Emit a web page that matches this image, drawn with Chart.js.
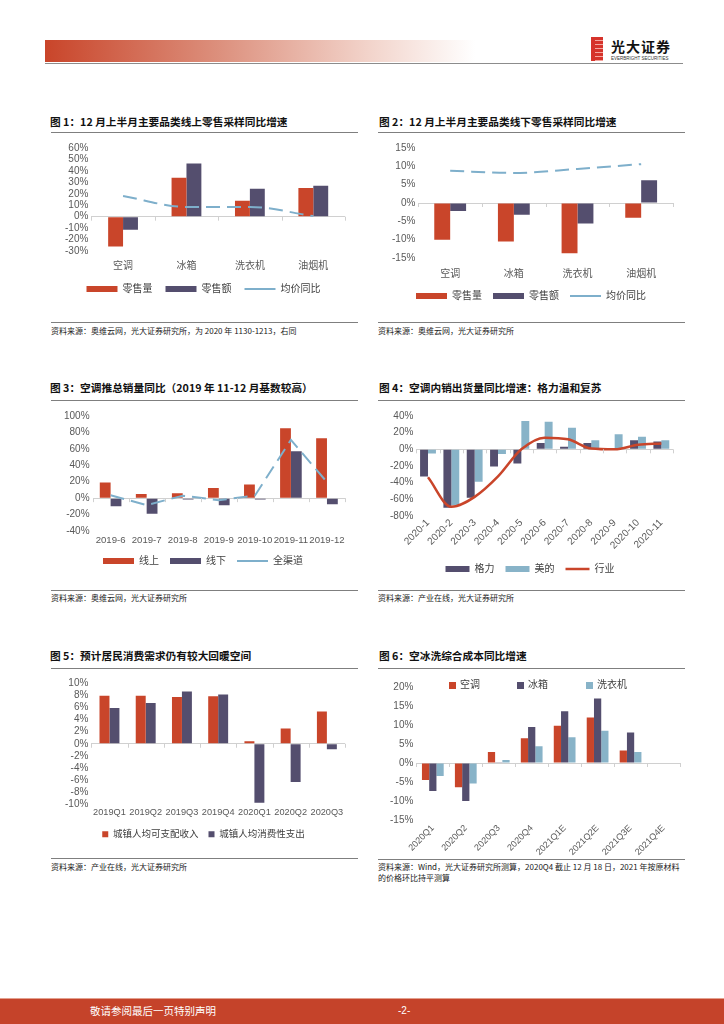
<!DOCTYPE html>
<html>
<head>
<meta charset="utf-8">
<script src="https://cdn.jsdelivr.net/npm/chart.js@4.4.0/dist/chart.umd.min.js"></script>
<style>
  body { margin: 0; width: 724px; height: 1024px; position: relative; background: #fff; overflow: hidden;
         font-family: "Noto Sans CJK SC", sans-serif; }
  .abs { position: absolute; }
  .title { font-size: 10.7px; font-weight: bold; color: #111; white-space: nowrap; line-height: 14px; }
  .rule { height: 0; border-top: 1.5px solid #7f7f7f; }
  .src { font-size: 8px; color: #222; white-space: nowrap; line-height: 11px; }
  .box { position: absolute; }
  .lg6 { position: absolute; font-size: 10px; color: #404040; line-height: 12px; white-space: nowrap; }
  .lg6 i { display: inline-block; width: 7px; height: 7px; margin-right: 4px; vertical-align: -0.5px; }
</style>
</head>
<body>

<!-- header -->
<div class="abs" style="left:45px;top:40px;width:430px;height:22px;background:linear-gradient(to right,#c9452a 0%,#dc8f7c 40%,#f2d3ca 75%,#ffffff 100%);"></div>
<div class="abs" style="left:45px;top:63px;width:638px;height:0;border-top:1.5px solid #8c8c8c;"></div>
<div class="abs" style="left:591px;top:37px;width:12px;height:24px;background:repeating-linear-gradient(to bottom,#d6332b 0px,#d6332b 3px,#f4a7a0 3px,#f4a7a0 4px);"></div>
<div class="abs" style="left:591px;top:37px;width:4px;height:24px;background:#d6332b;"></div>
<div class="abs" style="left:611px;top:38px;font-size:14px;font-weight:bold;color:#111;letter-spacing:1px;line-height:16px;">光大证券</div>
<div class="abs" style="left:611px;top:56px;font-size:4.5px;color:#333;line-height:5px;font-family:'Liberation Sans',sans-serif;">EVERBRIGHT SECURITIES</div>

<!-- row 1 -->
<div class="abs title" style="left:50px;top:115px;">图 1：12 月上半月主要品类线上零售采样同比增速</div>
<div class="abs rule" style="left:51px;top:132px;width:307px;"></div>
<div class="box" style="left:50px;top:138px;width:308px;height:166px;"><canvas id="c1"></canvas></div>
<div class="abs rule" style="left:51px;top:322px;width:307px;"></div>
<div class="abs src" style="left:51px;top:325px;">资料来源：奥维云网，光大证券研究所，为 2020 年 1130-1213，右同</div>

<div class="abs title" style="left:379px;top:115px;">图 2：12 月上半月主要品类线下零售采样同比增速</div>
<div class="abs rule" style="left:378px;top:132px;width:307px;"></div>
<div class="box" style="left:380px;top:138px;width:305px;height:173px;"><canvas id="c2"></canvas></div>
<div class="abs rule" style="left:378px;top:322px;width:307px;"></div>
<div class="abs src" style="left:378px;top:325px;">资料来源：奥维云网，光大证券研究所</div>

<!-- row 2 -->
<div class="abs title" style="left:50px;top:381px;">图 3：空调推总销量同比（2019 年 11-12 月基数较高）</div>
<div class="abs rule" style="left:51px;top:400px;width:307px;"></div>
<div class="box" style="left:50px;top:405px;width:308px;height:171px;"><canvas id="c3"></canvas></div>
<div class="abs rule" style="left:51px;top:590px;width:307px;"></div>
<div class="abs src" style="left:51px;top:592px;">资料来源：奥维云网，光大证券研究所</div>

<div class="abs title" style="left:379px;top:381px;">图 4：空调内销出货量同比增速：格力温和复苏</div>
<div class="abs rule" style="left:378px;top:400px;width:307px;"></div>
<div class="box" style="left:380px;top:405px;width:305px;height:179px;"><canvas id="c4"></canvas></div>
<div class="abs rule" style="left:378px;top:590px;width:307px;"></div>
<div class="abs src" style="left:378px;top:592px;">资料来源：产业在线，光大证券研究所</div>

<!-- row 3 -->
<div class="abs title" style="left:50px;top:649px;">图 5：预计居民消费需求仍有较大回暖空间</div>
<div class="abs rule" style="left:51px;top:668px;width:307px;"></div>
<div class="box" style="left:50px;top:672px;width:308px;height:177px;"><canvas id="c5"></canvas></div>
<div class="abs rule" style="left:51px;top:858px;width:307px;"></div>
<div class="abs src" style="left:51px;top:861px;">资料来源：产业在线，光大证券研究所</div>

<div class="abs title" style="left:379px;top:649px;">图 6：空冰洗综合成本同比增速</div>
<div class="abs rule" style="left:378px;top:668px;width:307px;"></div>
<div class="box" style="left:380px;top:676px;width:310px;height:180px;"><canvas id="c6"></canvas></div>
<div class="lg6" style="left:449px;top:678px;"><i style="background:#c9452a"></i>空调</div>
<div class="lg6" style="left:517px;top:678px;"><i style="background:#544e6e"></i>冰箱</div>
<div class="lg6" style="left:586px;top:678px;"><i style="background:#88b3c8"></i>洗衣机</div>
<div class="abs rule" style="left:378px;top:859px;width:307px;"></div>
<div class="abs src" style="left:378px;top:861px;">资料来源：Wind，光大证券研究所测算，2020Q4 截止 12 月 18 日，2021 年按原材料</div>
<div class="abs src" style="left:378px;top:872px;">的价格环比持平测算</div>

<!-- footer -->
<div class="abs" style="left:0;top:998px;width:724px;height:25px;background:#c5432a;border-top:1px solid #e3a08f;"></div>
<div class="abs" style="left:90px;top:1004px;font-size:10.5px;color:#fff;line-height:14px;">敬请参阅最后一页特别声明</div>
<div class="abs" style="left:398px;top:1004px;font-size:10px;color:#fff;line-height:14px;font-family:'Liberation Sans',sans-serif;">-2-</div>

<script>
// 图1 线上
const cats1 = ['空调', '冰箱', '洗衣机', '油烟机'];
const vol1 = [-26, 34, 14, 25];
const amt1 = [-11.5, 46.5, 24.5, 27];
const price1 = [18, 8.5, 8.5, 0.5];

// 图2 线下
const cats2 = ['空调', '冰箱', '洗衣机', '油烟机'];
const vol2 = [-10, -10.5, -13.7, -4];
const amt2 = [-2.2, -3.2, -5.6, 6.2];
const price2 = [8.8, 8.2, 9.3, 10.6];

// 图3 空调推总销量
const cats3 = ['2019-6', '2019-7', '2019-8', '2019-9', '2019-10', '2019-11', '2019-12'];
const online3 = [19, 5, 6, 12.5, 16.5, 85, 73];
const offline3 = [-10, -19, -1.5, -8.5, -1.5, 57, -7.5];
const total3 = [3.5, -8.5, 3, -2.5, 3, 71, 19.5];

// 图4 内销出货量
const cats4 = ['2020-1', '2020-2', '2020-3', '2020-4', '2020-5', '2020-6', '2020-7', '2020-8', '2020-9', '2020-10', '2020-11'];
const gree4 = [-32.5, -70, -58, -20.5, -17, 7.5, 3, 7.5, 0.5, 11, 9.5];
const midea4 = [-5, -67, -39, -5.5, 34, 33, 26, 11, 18, 15, 11];
const ind4 = [-33.5, -69, -57, -32.5, 0, 14, 12, 1, 0, 5.5, 7];

// 图5 收入与支出
const cats5 = ['2019Q1', '2019Q2', '2019Q3', '2019Q4', '2020Q1', '2020Q2', '2020Q3'];
const inc5 = [7.9, 7.9, 7.7, 7.8, 0.4, 2.5, 5.3];
const exp5 = [5.9, 6.7, 8.6, 8.1, -9.7, -6.3, -0.9];

// 图6 综合成本
const cats6 = ['2020Q1', '2020Q2', '2020Q3', '2020Q4', '2021Q1E', '2021Q2E', '2021Q3E', '2021Q4E'];
const ac6 = [-4.5, -6.4, 2.9, 6.5, 9.8, 12, 3.3, null];
const fr6 = [-7.4, -10, 0.2, 9.5, 13.6, 17, 8, null];
const wm6 = [-3.4, -5.4, 0.8, 4.4, 6.8, 8.5, 2.9, null];

const RED = '#c9452a', PURPLE = '#544e6e', BLUE = '#88b3c8', DASH = '#7eafcb';
const FONT = '"Liberation Sans", "Noto Sans CJK SC", sans-serif';

// small tick marks on the zero line between categories
const zeroTicks = {
    id: 'zeroTicks',
    afterDatasetsDraw(chart) {
        const x = chart.scales.x, y = chart.scales.y, ctx = chart.ctx;
        const y0 = y.getPixelForValue(0);
        const n = chart.data.labels.length, w = (x.right - x.left) / n;
        ctx.save();
        ctx.strokeStyle = '#d0d0d0';
        ctx.lineWidth = 1;
        for (let i = 0; i <= n; i++) {
            const px = Math.round(x.left + i * w) + 0.5;
            ctx.beginPath();
            ctx.moveTo(px, y0);
            ctx.lineTo(px, y0 + 4);
            ctx.stroke();
        }
        ctx.restore();
    }
};

function bar(label, data, color) {
    return { type: 'bar', label: label, data: data, backgroundColor: color, borderWidth: 0, pointStyle: 'rect', order: 2 };
}

function line(label, data, color, dash, width, smooth) {
    return { type: 'line', label: label, data: data, borderColor: color, backgroundColor: color, borderWidth: width,
             borderDash: dash, pointRadius: 0, pointStyle: 'line', fill: false, order: 1,
             tension: smooth ? 0.4 : 0, cubicInterpolationMode: smooth ? 'monotone' : 'default' };
}

function makeChart(id, cats, datasets, o) {
    new Chart(document.getElementById(id), {
        data: { labels: cats, datasets: datasets },
        options: {
            responsive: true,
            maintainAspectRatio: false,
            animation: false,
            layout: { padding: o.pad },
            datasets: { bar: { categoryPercentage: o.cat, barPercentage: 1 } },
            plugins: {
                tooltip: { enabled: false },
                legend: {
                    display: o.legend !== false,
                    position: 'bottom',
                    labels: {
                        usePointStyle: true,
                        pointStyleWidth: o.boxW,
                        boxWidth: o.boxW,
                        boxHeight: o.boxH,
                        padding: o.lgPad,
                        color: '#404040',
                        font: { family: FONT, size: o.lgSize || 10 },
                        sort: (a, b) => a.datasetIndex - b.datasetIndex
                    }
                }
            },
            scales: {
                x: {
                    grid: { display: false, drawTicks: false },
                    border: { display: false },
                    afterFit: s => { s.height = o.xH; },
                    ticks: { color: '#595959', font: { family: FONT, size: o.xSize || 10 }, padding: o.xPad,
                             maxRotation: o.rot || 0, minRotation: o.rot || 0, autoSkip: false }
                },
                y: {
                    min: o.min, max: o.max,
                    border: { display: false },
                    grid: { drawTicks: false, color: c => c.tick.value === 0 ? '#d0d0d0' : 'rgba(0,0,0,0)' },
                    ticks: { stepSize: o.step, autoSkip: false, color: '#595959', font: { family: FONT, size: 10 },
                             padding: 3, callback: v => v + '%' }
                }
            }
        },
        plugins: [zeroTicks]
    });
}

makeChart('c1', cats1, [
    bar('零售量', vol1, RED),
    bar('零售额', amt1, PURPLE),
    line('均价同比', price1, DASH, [14, 7], 2, true)
], { pad: { left: 12, right: 13, top: 10, bottom: 0 }, cat: 0.47, min: -30, max: 60, step: 10,
     boxW: 31, boxH: 6, lgPad: 13, xPad: 9, xH: 20 });

makeChart('c2', cats2, [
    bar('零售量', vol2, RED),
    bar('零售额', amt2, PURPLE),
    line('均价同比', price2, DASH, [14, 7], 2, true)
], { pad: { left: 9, right: 12, top: 10, bottom: 0 }, cat: 0.5, min: -15, max: 15, step: 5,
     boxW: 31, boxH: 6, lgPad: 11, xPad: 10, xH: 22 });

makeChart('c3', cats3, [
    bar('线上', online3, RED),
    bar('线下', offline3, PURPLE),
    line('全渠道', total3, DASH, [14, 7], 2, false)
], { pad: { left: 11, right: 13, top: 11, bottom: 0 }, cat: 0.6, min: -40, max: 100, step: 20,
     boxW: 31, boxH: 6, lgPad: 11, xPad: 4, xH: 14, xSize: 9.6 });

makeChart('c4', cats4, [
    bar('格力', gree4, PURPLE),
    bar('美的', midea4, BLUE),
    line('行业', ind4, RED, [], 2.5, true)
], { pad: { left: 7, right: 12, top: 11, bottom: 0 }, cat: 0.68, min: -80, max: 40, step: 20,
     boxW: 24, boxH: 6, lgPad: 11, xPad: 1, xH: 37, rot: 45 });

makeChart('c5', cats5, [
    bar('城镇人均可支配收入', inc5, RED),
    bar('城镇人均消费性支出', exp5, PURPLE)
], { pad: { left: 12, right: 13, top: 11, bottom: 0 }, cat: 0.55, min: -10, max: 10, step: 2,
     boxW: 6, boxH: 6, lgPad: 10, xPad: 2, xH: 15, xSize: 9.2, lgSize: 9.5 });

makeChart('c6', cats6, [
    bar('空调', ac6, RED),
    bar('冰箱', fr6, PURPLE),
    bar('洗衣机', wm6, BLUE)
], { pad: { left: 7, right: 10, top: 11, bottom: 0 }, cat: 0.66, min: -15, max: 20, step: 5,
     boxW: 7, boxH: 7, lgPad: 10, xPad: 3, xH: 36, rot: 45, legend: false, xSize: 9 });
</script>
</body>
</html>
